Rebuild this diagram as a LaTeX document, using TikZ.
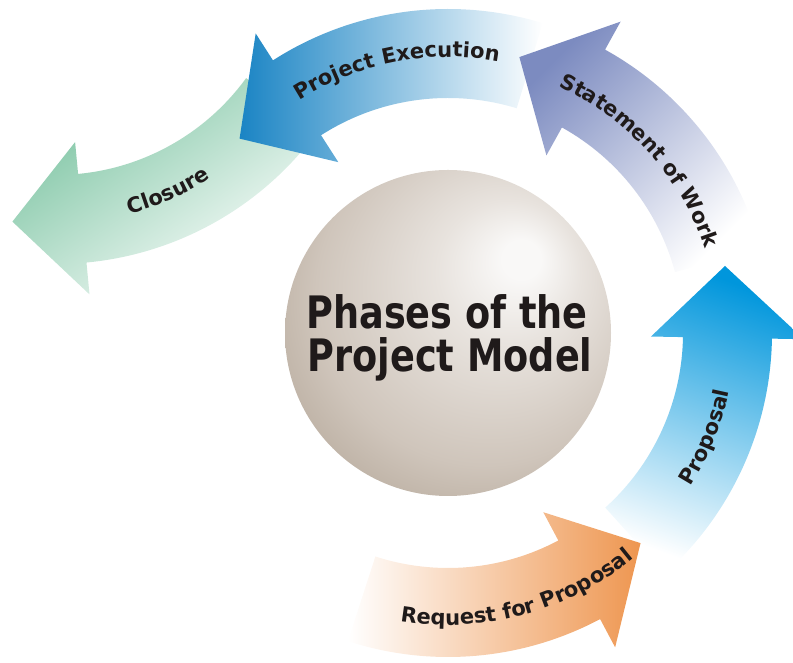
\documentclass[tikz,border=0pt]{standalone}
\usepackage{fontspec}
\setmainfont{DejaVu Sans}
\newfontfamily\titlefont[FakeStretch=0.82]{DejaVu Sans}
\usetikzlibrary{decorations.text}

\definecolor{rfporange}{HTML}{EE9650}
\definecolor{propblue}{HTML}{0096DC}
\definecolor{sowblue}{HTML}{7C8BC0}
\definecolor{peblue}{HTML}{1A84C4}
\definecolor{closuregreen}{HTML}{7CC4A2}
\definecolor{labelink}{HTML}{1F1A1A}
\definecolor{sphlight}{HTML}{F9F8F7}
\definecolor{sphhigh}{HTML}{E8E3DE}
\definecolor{sphmid}{HTML}{CFC5BB}
\definecolor{sphdark}{HTML}{A49584}

\pgfdeclareradialshading{sphereshade}{\pgfpoint{12bp}{12bp}}{%
  color(0bp)=(sphlight); color(3bp)=(sphlight); color(11bp)=(sphhigh);
  color(26bp)=(sphmid); color(42bp)=(sphdark); color(50bp)=(sphdark)}

\newcommand{\arrowlabelfont}{\fontsize{21}{21}\selectfont\bfseries}

\begin{document}
\begin{tikzpicture}[x=1pt,y=1pt,
  arrowlabel/.style={decorate, decoration={text along path, text align=center, text color=labelink}},
  title/.style={font=\titlefont\bfseries\fontsize{44.7}{44.7}\selectfont, text=labelink, inner sep=0pt, anchor=base}]
			\useasboundingbox (0,0) rectangle (793,663);
			\coordinate (M) at (448,330);
			\coordinate (K) at (56,723);

			% closure
			\shade[left color=closuregreen, right color=white, shading angle=35]
				([shift={(-36:235)}]K) arc[start angle=-36, end angle=-84.6, radius=235]
				-- ([shift={(-84.6:203)}]K) -- ([shift={(-98.8:285)}]K) -- ([shift={(-84.6:356)}]K)
				-- ([shift={(-84.6:324)}]K) arc[start angle=-84.6, end angle=-36, radius=324] -- cycle;
			% project execution
			\shade[left color=peblue, right color=white]
				([shift={(73:235)}]M) arc[start angle=73, end angle=122.7, radius=235]
				-- ([shift={(122.7:203)}]M) -- ([shift={(137:285)}]M) -- ([shift={(122.7:356)}]M)
				-- ([shift={(122.7:324)}]M) arc[start angle=122.7, end angle=73, radius=324] -- cycle;
			% statement of work
			\shade[top color=sowblue, bottom color=white, shading angle=45]
				([shift={(15:235)}]M) arc[start angle=15, end angle=61, radius=235]
				-- ([shift={(61:203)}]M) -- ([shift={(75.5:285)}]M) -- ([shift={(61:356)}]M)
				-- ([shift={(61:324)}]M) arc[start angle=61, end angle=15, radius=324] -- cycle;
			% proposal
			\shade[top color=propblue, bottom color=white, shading angle=-20]
				([shift={(-48:235)}]M) arc[start angle=-48, end angle=-1, radius=235]
				-- ([shift={(-1:203)}]M) -- ([shift={(13.6:285)}]M) -- ([shift={(-1:356)}]M)
				-- ([shift={(-1:324)}]M) arc[start angle=-1, end angle=-48, radius=324] -- cycle;
			% request for proposal
			\shade[left color=white, right color=rfporange]
				([shift={(-108:235)}]M) arc[start angle=-108, end angle=-62, radius=235]
				-- ([shift={(-62:203)}]M) -- ([shift={(-47.5:285)}]M) -- ([shift={(-62:356)}]M)
				-- ([shift={(-62:324)}]M) arc[start angle=-62, end angle=-108, radius=324] -- cycle;

			% labels
			\path[arrowlabel, decoration={text={|\arrowlabelfont|Request for Proposal}}]
				([shift={(-120:292)}]M) arc[start angle=-120, end angle=-30, radius=292];
			\path[arrowlabel, decoration={text={|\arrowlabelfont|Proposal}}]
				([shift={(-60:287)}]M) arc[start angle=-60, end angle=16, radius=287];
			\path[arrowlabel, decoration={text={|\arrowlabelfont|Statement of Work}}]
				([shift={(85:270)}]M) arc[start angle=85, end angle=-1, radius=270];
			\path[arrowlabel, decoration={text={|\arrowlabelfont|Project Execution}}]
				([shift={(146:276)}]M) arc[start angle=146, end angle=56, radius=276];
			\path[arrowlabel, decoration={text={|\arrowlabelfont|Closure}}]
				([shift={(-96:284)}]K) arc[start angle=-96, end angle=-36, radius=284];

			% sphere
			\shade[shading=sphereshade] (M) circle[radius=163];
			\node (phases) [title] at (447,334) {Phases of the};
			\node (model) [title] at (450,291) {Project Model};
\end{tikzpicture}
\end{document}
